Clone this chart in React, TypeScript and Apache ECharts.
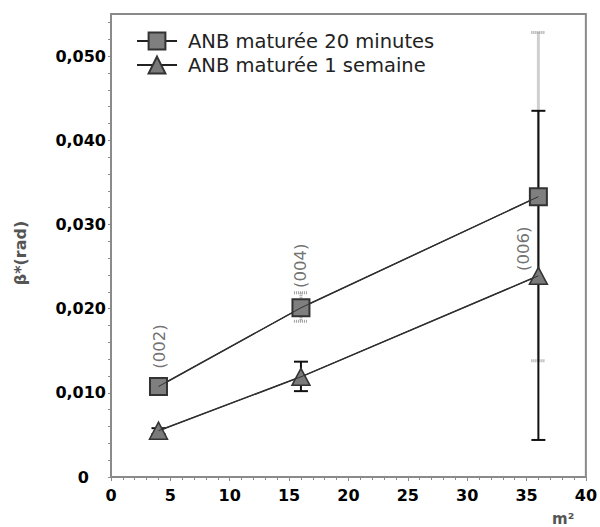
import React, { useEffect, useRef } from "react";
import * as echarts from "echarts";

const xValues = [4, 16, 36];
const series20min = [0.01075, 0.0201, 0.0333];
const series1sem = [0.0055, 0.0119, 0.0239];
const err20minLow = [0.0185, 0.0138];
const err20minHigh = [0.0219, 0.0528];
const err20minX = [16, 36];
const err1semLow = [0.0051, 0.0102, 0.0044];
const err1semHigh = [0.0058, 0.0137, 0.0435];
const peakLabels = ["(002)", "(004)", "(006)"];
const peakLabelX = [4.1, 16, 34.75];
const peakLabelY = [0.0155, 0.0251, 0.0271];
const seriesNames = ["ANB maturée 20 minutes", "ANB maturée 1 semaine"];
const yAxisTitle = "β*(rad)";
const xAxisTitle = "m²";

const FONT = "DejaVu Sans";

function makeErrorRender(style: any) {
  return (params: any, api: any) => {
    const x = api.value(0);
    const lo = api.value(1);
    const hi = api.value(2);
    const pHi = api.coord([x, hi]);
    const pLo = api.coord([x, lo]);
    const hw = 7;
    return {
      type: "group",
      children: [
        { type: "line", shape: { x1: pHi[0], y1: pHi[1], x2: pLo[0], y2: pLo[1] }, style },
        { type: "line", shape: { x1: pHi[0] - hw, y1: pHi[1], x2: pHi[0] + hw, y2: pHi[1] }, style },
        { type: "line", shape: { x1: pLo[0] - hw, y1: pLo[1], x2: pLo[0] + hw, y2: pLo[1] }, style },
      ],
    };
  };
}

export default function App() {
  const ref = useRef<HTMLDivElement>(null);
  useEffect(() => {
    if (!ref.current) return;
    const chart = echarts.init(ref.current, null, { renderer: "svg" });
    const d20 = xValues.map((x, i) => [x, series20min[i]]);
    const d1 = xValues.map((x, i) => [x, series1sem[i]]);
    const labelStyle = { fontFamily: FONT, fontWeight: "bold", fontSize: 16, color: "#000" };
    chart.setOption({
      animation: false,
      backgroundColor: "#fff",
      grid: {
        left: 111,
        right: 11,
        top: 14,
        bottom: 50,
        show: true,
        borderColor: "#8a8a8a",
        borderWidth: 2,
      },
      legend: {
        data: seriesNames,
        orient: "vertical",
        left: 131,
        top: 26,
        itemWidth: 40,
        itemHeight: 21,
        itemGap: 4,
        textStyle: {
          fontFamily: FONT,
          fontSize: 19.5,
          color: "#222",
          padding: [0, 0, 0, 6],
        },
      },
      xAxis: {
        type: "value",
        min: 0,
        max: 40,
        interval: 5,
        axisLine: { show: true, lineStyle: { color: "#8a8a8a", width: 2 } },
        axisTick: { show: true, inside: false, length: 4, lineStyle: { color: "#8a8a8a" } },
        minorTick: { show: true, splitNumber: 5, length: 3, lineStyle: { color: "#8a8a8a" } },
        splitLine: { show: false },
        axisLabel: { ...labelStyle, margin: 10 },
      },
      yAxis: {
        type: "value",
        min: 0,
        max: 0.055,
        interval: 0.002,
        axisLine: { show: true, lineStyle: { color: "#8a8a8a", width: 2 } },
        axisTick: { show: true, inside: false, length: 3, lineStyle: { color: "#8a8a8a" } },
        splitLine: { show: false },
        axisLabel: {
          ...labelStyle,
          margin: 5,
          showMaxLabel: false,
          formatter: (v: number) => {
            const k = v * 100;
            if (Math.abs(k - Math.round(k)) > 1e-6) return "";
            if (Math.round(k) === 0) return "{z|0}";
            return v.toFixed(3).replace(".", ",");
          },
          rich: {
            z: { ...labelStyle, padding: [0, 17, 0, 0] },
          },
        },
      },
      series: [
        {
          type: "custom",
          name: "err20",
          z: 1,
          data: err20minX.map((x, i) => [x, err20minLow[i], err20minHigh[i]]),
          encode: { x: 0, y: [1, 2] },
          renderItem: makeErrorRender({ stroke: "#a0a0a0", lineWidth: 3, lineDash: [1, 1] }),
        },
        {
          type: "custom",
          name: "err1",
          z: 1,
          data: xValues.map((x, i) => [x, err1semLow[i], err1semHigh[i]]),
          encode: { x: 0, y: [1, 2] },
          renderItem: makeErrorRender({ stroke: "#111", lineWidth: 2 }),
        },
        {
          type: "line",
          name: seriesNames[0],
          z: 2,
          data: d20,
          symbol: "rect",
          symbolSize: 17,
          lineStyle: { color: "#222", width: 1.5 },
          itemStyle: { color: "#7f7f7f", borderColor: "#333", borderWidth: 2 },
        },
        {
          type: "line",
          name: seriesNames[1],
          z: 2,
          data: d1,
          symbol: "triangle",
          symbolSize: [18, 17],
          lineStyle: { color: "#222", width: 1.5 },
          itemStyle: { color: "#7a7a7a", borderColor: "#333", borderWidth: 1.5 },
        },
        {
          type: "line",
          name: "l20",
          z: 3,
          data: d20,
          showSymbol: false,
          symbol: "none",
          lineStyle: { color: "#333", width: 1 },
        },
        {
          type: "line",
          name: "l1",
          z: 3,
          data: d1,
          showSymbol: false,
          symbol: "none",
          lineStyle: { color: "#333", width: 1 },
        },
        {
          type: "scatter",
          name: "peaks",
          z: 4,
          symbolSize: 0,
          data: peakLabels.map((n, i) => ({ name: n, value: [peakLabelX[i], peakLabelY[i]] })),
          label: {
            show: true,
            position: "inside",
            rotate: 90,
            formatter: (p: any) => p.name,
            fontFamily: FONT,
            fontSize: 16.5,
            color: "#4d4d4d",
          },
        },
      ],
      graphic: [
        {
          type: "text",
          x: 20,
          y: 253,
          rotation: Math.PI / 2,
          style: {
            text: yAxisTitle,
            fontFamily: FONT,
            fontWeight: "bold",
            fontSize: 16,
            fill: "#555",
            align: "center",
            verticalAlign: "middle",
          },
        },
        {
          type: "text",
          left: 552,
          top: 511,
          style: {
            text: xAxisTitle,
            fontFamily: FONT,
            fontWeight: "bold",
            fontSize: 15,
            fill: "#555",
          },
        },
      ],
    });
    return () => chart.dispose();
  }, []);
  return (
    <div
      ref={ref}
      style={{ position: "absolute", left: 0, top: 0, width: 600, height: 527 }}
    />
  );
}
